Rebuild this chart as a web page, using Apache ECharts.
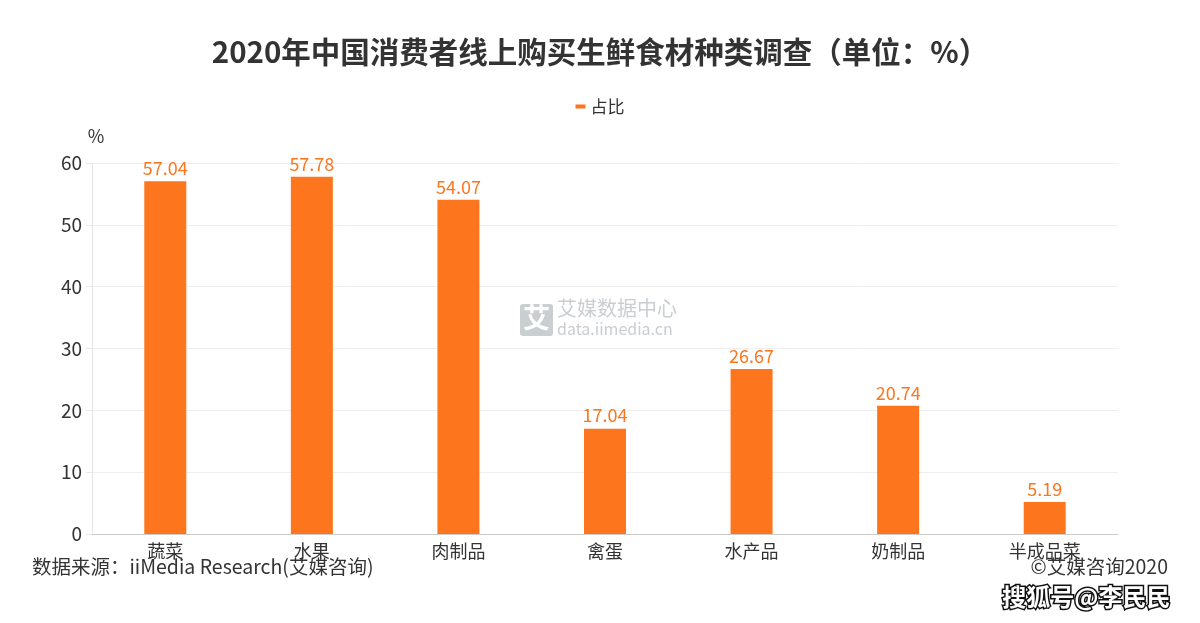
<!DOCTYPE html>
<html>
<head>
<meta charset="utf-8">
<script src="https://cdn.jsdelivr.net/npm/echarts@6/dist/echarts.min.js"></script>
<style>
  html, body { margin: 0; padding: 0; background: #fff; }
  #chart { width: 1200px; height: 623px; }
</style>
</head>
<body>
<div id="chart"></div>
<script>
var categories = ["蔬菜", "水果", "肉制品", "禽蛋", "水产品", "奶制品", "半成品菜"];
var shareValues = [57.04, 57.78, 54.07, 17.04, 26.67, 20.74, 5.19];
var yTicks = [0, 10, 20, 30, 40, 50, 60];

var font = "'Noto Sans CJK SC', 'Noto Sans', sans-serif";
var myChart = echarts.init(document.getElementById("chart"));

myChart.setOption({
  textStyle: { fontFamily: font },
  title: {
    text: "2020年中国消费者线上购买生鲜食材种类调查（单位：%）",
    left: "center",
    top: 32,
    textStyle: { fontSize: 29.5, fontWeight: "bold", color: "#333", fontFamily: font }
  },
  legend: {
    top: 93,
    left: "center",
    itemWidth: 10,
    itemHeight: 4,
    icon: "rect",
    textStyle: { fontSize: 17, color: "#333" },
    data: ["占比"]
  },
  grid: { left: 92, right: 82, top: 163, bottom: 89 },
  xAxis: {
    type: "category",
    data: categories,
    axisLine: { lineStyle: { color: "#ccc" } },
    axisTick: { alignWithLabel: true, lineStyle: { color: "#999" }, length: 6 },
    axisLabel: { fontSize: 18, color: "#333", margin: 8 }
  },
  yAxis: {
    type: "value",
    name: "%",
    nameGap: 18,
    nameTextStyle: { fontSize: 18, color: "#333", align: "center", padding: [0, 0, 0, 8] },
    min: yTicks[0],
    max: yTicks[yTicks.length - 1],
    interval: 10,
    axisLine: { show: true, lineStyle: { color: "#e6e6e6" } },
    axisTick: { show: true, length: 6, lineStyle: { color: "#e6e6e6" } },
    axisLabel: { fontSize: 19, color: "#333", margin: 10 },
    splitLine: { lineStyle: { color: "#eeeeee" } }
  },
  graphic: [
    {
      type: "rect", left: 520, top: 304,
      shape: { width: 33, height: 32, r: 3 },
      style: { fill: "#c9ced1" }
    },
    {
      type: "text", left: 523, top: 304,
      style: { text: "艾", fontSize: 27, fontWeight: "bold", fill: "#fff", fontFamily: font }
    },
    {
      type: "text", left: 557, top: 298,
      style: { text: "艾媒数据中心", fontSize: 20, fill: "#c9ced1", fontFamily: font }
    },
    {
      type: "text", left: 557, top: 321,
      style: { text: "data.iimedia.cn", fontSize: 16, fill: "#c9ced1", fontFamily: font }
    },
    {
      type: "text", left: 32, top: 557,
      style: { text: "数据来源：iiMedia Research(艾媒咨询)", fontSize: 19.5, fill: "#333", fontFamily: font }
    },
    {
      type: "text", right: 32, top: 557,
      style: { text: "©艾媒咨询2020", fontSize: 19.5, fill: "#333", fontFamily: font }
    },
    {
      type: "text", right: 28, top: 583,
      style: {
        text: "搜狐号@李民民", fontSize: 24, fontWeight: "bold", fill: "#fff",
        stroke: "#111", lineWidth: 3, fontFamily: font
      }
    }
  ],
  series: [
    {
      name: "占比",
      type: "bar",
      data: shareValues,
      barWidth: 42,
      itemStyle: { color: "#fd751d" },
      label: {
        show: true,
        position: "top",
        fontSize: 18,
        color: "#fd751d",
        distance: 4
      }
    }
  ]
});
</script>
</body>
</html>
